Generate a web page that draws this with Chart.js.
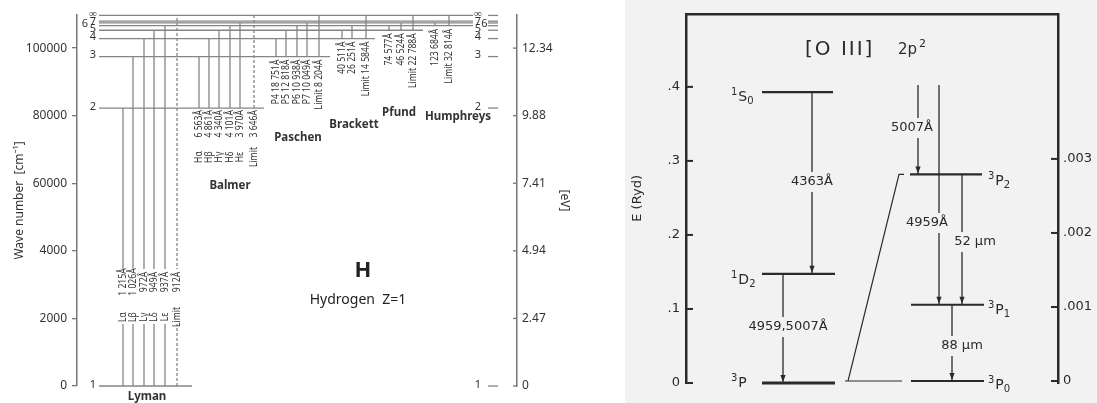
<!DOCTYPE html>
<html>
<head>
<meta charset="utf-8">
<script src="https://cdn.jsdelivr.net/npm/chart.js"></script>
<style>
  body { margin: 0; background: #fff; }
  #hChart { position: absolute; left: 0; top: 0; }
  #oChart { position: absolute; left: 600px; top: 0; }
</style>
</head>
<body>
<canvas id="hChart" width="600" height="403"></canvas>
<canvas id="oChart" width="497" height="403"></canvas>
<script>
// ---------- Hydrogen data ----------
var levelNames = ["1", "2", "3", "4", "5", "6", "7", "8", "∞"];
var levelWave = [0, 82259, 97492, 102824, 105292, 106632, 107440, 107965, 109678];
var waveTickVals = [0, 20000, 40000, 60000, 80000, 100000];
var waveTicks = ["0", "2000", "4000", "60000", "80000", "100000"];
var eVTicks = ["0", "2.47", "4.94", "7.41", "9.88", "12.34"];

var lymanNames = ["Lα", "Lβ", "Lγ", "Lδ", "Lε", "Limit"];
var lymanWl = ["1 215Å", "1 026Å", "972Å", "949Å", "937Å", "912Å"];
var balmerNames = ["Hα", "Hβ", "Hγ", "Hδ", "Hε", "Limit"];
var balmerWl = ["6 563Å", "4 861Å", "4 340Å", "4 101Å", "3 970Å", "3 646Å"];
var paschenNames = ["P4", "P5", "P6", "P7", "Limit"];
var paschenWl = ["18 751Å", "12 818Å", "10 938Å", "10 049Å", "8 204Å"];
var brackettNames = ["", "", "Limit"];
var brackettWl = ["40 511Å", "26 251Å", "14 584Å"];
var pfundNames = ["", "", "Limit"];
var pfundWl = ["74 577Å", "46 524Å", "22 788Å"];
var humphreysNames = ["", "Limit"];
var humphreysWl = ["123 684Å", "32 814Å"];

// ---------- [O III] data ----------
var oLevelSup = ["3", "1", "1"];
var oLevelMain = ["P", "D", "S"];
var oLevelSub = ["", "2", "0"];
var oLevelE = [0, 0.1475, 0.393];          // Ryd
var fineSub = ["0", "1", "2"];
var fineE = [0, 0.00103, 0.00279];          // Ryd
var fineFrom = 0.004;                       // lines coming down from 1D2 (off scale)
var rydTickVals = [0, 0.1, 0.2, 0.3, 0.4];
var rydTicks = ["0", ".1", ".2", ".3", ".4"];
var fineTickVals = [0, 0.001, 0.002, 0.003];
var fineTicks = ["0", ".001", ".002", ".003"];
var oLines = ["4363Å", "4959,5007Å", "5007Å", "4959Å", "52 µm", "88 µm"];

// ---------- layout (columns in x units, label y in px) ----------
var levelStart = 22;
var levelEnd = [115, 187, 253, 298, 346, 396, 396, 396, 396];
var series = [
  {name: "Lyman", lo: 0, names: lymanNames, wl: lymanWl, cols: [46, 56, 67, 77, 88, 100], title: [70, 397], dashLimit: true},
  {name: "Balmer", lo: 1, names: balmerNames, wl: balmerWl, cols: [122, 132, 142, 153, 163, 177], title: [153, 186], dashLimit: true},
  {name: "Paschen", lo: 2, names: paschenNames, wl: paschenWl, cols: [199, 209, 220, 230, 242], title: [221, 138]},
  {name: "Brackett", lo: 3, names: brackettNames, wl: brackettWl, cols: [265, 275, 289], title: [277, 125]},
  {name: "Pfund", lo: 4, names: pfundNames, wl: pfundWl, cols: [312, 324, 336], title: [322, 113]},
  {name: "Humphreys", lo: 5, names: humphreysNames, wl: humphreysWl, cols: [358, 372], title: [381, 117]}
];

var lineGray = "#858585";
var textDark = "#333";

var hDatasets = [];
for (var i = 0; i < levelWave.length; i++) {
  hDatasets.push({
    data: [{x: levelStart, y: levelWave[i]}, {x: levelEnd[i], y: levelWave[i]}],
    borderColor: lineGray, borderWidth: 1.3
  });
}
series.forEach(function (s) {
  var n = s.wl.length;
  for (var k = 0; k < n; k++) {
    var up = k < n - 1 ? s.lo + 1 + k : levelWave.length - 1;
    hDatasets.push({
      data: [{x: s.cols[k], y: levelWave[s.lo]}, {x: s.cols[k], y: levelWave[up]}],
      borderColor: lineGray, borderWidth: 1.3,
      borderDash: (s.dashLimit && k == n - 1) ? [3, 2] : []
    });
  }
});

function vtext(ctx, s, x, y, align) {
  ctx.save();
  ctx.translate(x, y);
  ctx.rotate(-Math.PI / 2);
  ctx.scale(0.82, 1);
  ctx.textAlign = align;
  ctx.textBaseline = "middle";
  ctx.fillText(s, 0, 0);
  ctx.restore();
}

var hLabels = {
  id: "hLabels",
  afterDatasetsDraw: function (chart) {
    var ctx = chart.ctx, xs = chart.scales.x, ys = chart.scales.y;
    var area = chart.chartArea;
    function X(v) { return xs.getPixelForValue(v); }
    function Y(v) { return ys.getPixelForValue(v); }
    ctx.save();
    ctx.fillStyle = textDark;
    ctx.font = "10.5px 'Noto Sans'";

    series.forEach(function (s) {
      var base = Y(levelWave[s.lo]);
      for (var k = 0; k < s.wl.length; k++) {
        var px = X(s.cols[k]);
        if (s.name == "Lyman") {
          ctx.fillStyle = "#fff";
          ctx.fillRect(px - 4, base - 117, 8, 55);
          ctx.fillStyle = textDark;
          vtext(ctx, s.wl[k], px, base - 104, "center");
          vtext(ctx, s.names[k], px, base - 69, "center");
        } else if (s.name == "Balmer") {
          vtext(ctx, s.wl[k], px, base + 2, "right");
          vtext(ctx, s.names[k], px, base + 49, "center");
        } else {
          var t = s.names[k] ? s.names[k] + " " + s.wl[k] : s.wl[k];
          vtext(ctx, t, px, base + 3, "right");
        }
      }
      ctx.font = "bold 11.5px 'Noto Sans'";
      ctx.textAlign = "center";
      ctx.textBaseline = "middle";
      ctx.fillText(s.name, X(s.title[0]), s.title[1]);
      ctx.font = "10.5px 'Noto Sans'";
    });

    // level numbers, left and right
    ctx.font = "11px 'Noto Sans'";
    ctx.textAlign = "center";
    ctx.textBaseline = "middle";
    for (var i = 0; i < levelWave.length; i++) {
      var py = Y(levelWave[i]);
      ctx.strokeStyle = lineGray;
      ctx.lineWidth = 1.3;
      ctx.beginPath();
      ctx.moveTo(X(411), py);
      ctx.lineTo(X(421), py);
      ctx.stroke();
      if (levelNames[i] == "8") continue;
      var off = levelNames[i] == "6" ? 8 : 0;
      ctx.fillText(levelNames[i], X(16) - off, py - 1.5);
      ctx.fillText(levelNames[i], X(401) + off * 0.8, py - 1.5);
    }

    // inward ticks on the eV axis
    var y1 = chart.scales.y1;
    ctx.strokeStyle = "#777";
    ctx.lineWidth = 1.3;
    y1.ticks.forEach(function (t) {
      var py = y1.getPixelForValue(t.value);
      ctx.beginPath();
      ctx.moveTo(area.right - 4, py);
      ctx.lineTo(area.right, py);
      ctx.stroke();
    });

    ctx.fillStyle = "#222";
    ctx.font = "bold 22px 'Noto Sans'";
    ctx.fillText("H", X(286), 271);
    ctx.font = "14px 'Noto Sans'";
    ctx.fillText("Hydrogen  Z=1", X(281), 300);
    ctx.restore();
  }
};

new Chart("hChart", {
  type: "line",
  data: {datasets: hDatasets},
  options: {
    responsive: false,
    animation: false,
    layout: {padding: {top: 15, bottom: 17, left: 0, right: 0}},
    plugins: {legend: {display: false}, tooltip: {enabled: false}},
    elements: {point: {radius: 0}, line: {tension: 0}},
    datasets: {line: {clip: false}},
    scales: {
      x: {type: "linear", display: false, min: 0, max: 440},
      y: {
        type: "linear", position: "left", min: 0, max: 109800,
        afterBuildTicks: function (s) { s.ticks = waveTickVals.map(function (v) { return {value: v}; }); },
        afterFit: function (s) { s.width = 77; },
        ticks: {callback: function (v, i) { return waveTicks[i]; }, font: {family: "Noto Sans", size: 12}, color: textDark, padding: 5},
        grid: {display: true, drawOnChartArea: false, drawTicks: true, tickLength: 5, color: "#777", lineWidth: 1.3},
        border: {display: true, color: "#777", width: 1.5},
        title: {display: true, text: "Wave number  [cm⁻¹]", font: {family: "Noto Sans", size: 12}, color: textDark, padding: {top: 12}}
      },
      y1: {
        type: "linear", position: "right", min: 0, max: 109800,
        afterBuildTicks: function (s) { s.ticks = waveTickVals.map(function (v) { return {value: v}; }); },
        afterFit: function (s) { s.width = 83; },
        ticks: {callback: function (v, i) { return eVTicks[i]; }, font: {family: "Noto Sans", size: 12}, color: textDark, padding: 5},
        grid: {display: false, drawOnChartArea: false, drawTicks: false},
        border: {display: true, color: "#777", width: 1.5},
        title: {display: true, text: "[eV]", font: {family: "Noto Sans", size: 12}, color: textDark, padding: {top: 28}}
      }
    }
  },
  plugins: [hLabels]
});

// ---------- [O III] chart ----------
var ink = "#2a2a2a";
var paper = "#f2f2f2";
var oDatasets = [];
var oLevelCols = [[76, 149], [76, 149], [76, 147]];
for (var j = 0; j < oLevelE.length; j++) {
  oDatasets.push({
    data: [{x: oLevelCols[j][0], y: oLevelE[j]}, {x: oLevelCols[j][1], y: oLevelE[j]}],
    borderColor: ink, borderWidth: j == 0 ? 3.2 : 2.2, yAxisID: "y"
  });
}
var fineCols = [[225, 298], [225, 298], [224, 296]];
for (var j = 0; j < fineE.length; j++) {
  oDatasets.push({
    data: [{x: fineCols[j][0], y: fineE[j]}, {x: fineCols[j][1], y: fineE[j]}],
    borderColor: ink, borderWidth: 2.2, yAxisID: "y1"
  });
}
// bracket joining 3P to its fine structure
oDatasets.push({data: [{x: 159, y: 0}, {x: 216, y: 0}], borderColor: ink, borderWidth: 1.2, yAxisID: "y1"});
oDatasets.push({data: [{x: 162, y: 0}, {x: 213, y: fineE[2]}, {x: 218, y: fineE[2]}], borderColor: ink, borderWidth: 1.2, yAxisID: "y1"});

// transitions: [label index, x column, from, to, axis, label x, label y]
var oTrans = [
  [0, 126, oLevelE[2], oLevelE[1], "y", 126, 182],
  [1, 97, oLevelE[1], oLevelE[0], "y", 102, 327],
  [2, 232, fineFrom, fineE[2], "y1", 226, 128],
  [3, 253, fineFrom, fineE[1], "y1", 241, 223],
  [4, 276, fineE[2], fineE[1], "y1", 289, 242],
  [5, 266, fineE[1], fineE[0], "y1", 276, 346]
];
oTrans.forEach(function (t) {
  oDatasets.push({
    data: [{x: t[1], y: t[2]}, {x: t[1], y: t[3]}],
    borderColor: ink, borderWidth: 1.3, yAxisID: t[4], arrow: true,
    lineLabel: oLines[t[0]], labelX: t[5], labelY: t[6]
  });
});

function spec(ctx, x, y, sup, main, sub) {
  ctx.textAlign = "left";
  ctx.textBaseline = "alphabetic";
  ctx.font = "10px 'DejaVu Sans'";
  ctx.fillText(sup, x, y - 6);
  var w = ctx.measureText(sup).width + 1;
  ctx.font = "14px 'DejaVu Sans'";
  ctx.fillText(main, x + w, y);
  var w2 = ctx.measureText(main).width;
  ctx.font = "10px 'DejaVu Sans'";
  ctx.fillText(sub, x + w + w2, y + 3);
}

var oDraw = {
  id: "oDraw",
  beforeDraw: function (chart) {
    var ctx = chart.ctx;
    ctx.save();
    ctx.fillStyle = paper;
    ctx.fillRect(25, 0, chart.width - 25, chart.height);
    ctx.restore();
  },
  afterDatasetsDraw: function (chart) {
    var ctx = chart.ctx, xs = chart.scales.x, ys = chart.scales.y, y1 = chart.scales.y1;
    var area = chart.chartArea;
    ctx.save();
    chart.data.datasets.forEach(function (ds, i) {
      if (!ds.arrow) return;
      var meta = chart.getDatasetMeta(i);
      var p = meta.data[meta.data.length - 1];
      ctx.fillStyle = ink;
      ctx.beginPath();
      ctx.moveTo(p.x, p.y - 1);
      ctx.lineTo(p.x - 2.6, p.y - 8);
      ctx.lineTo(p.x + 2.6, p.y - 8);
      ctx.closePath();
      ctx.fill();
      ctx.font = "13px 'DejaVu Sans'";
      var lx = xs.getPixelForValue(ds.labelX);
      var w = ctx.measureText(ds.lineLabel).width;
      ctx.fillStyle = paper;
      ctx.fillRect(lx - w / 2 - 2, ds.labelY - 10, w + 4, 20);
      ctx.fillStyle = ink;
      ctx.textAlign = "center";
      ctx.textBaseline = "middle";
      ctx.fillText(ds.lineLabel, lx, ds.labelY);
    });

    // inward tick marks
    ctx.strokeStyle = ink;
    ctx.lineWidth = 2;
    ys.ticks.forEach(function (t) {
      var py = ys.getPixelForValue(t.value);
      ctx.beginPath(); ctx.moveTo(area.left, py); ctx.lineTo(area.left + 7, py); ctx.stroke();
    });
    y1.ticks.forEach(function (t) {
      var py = y1.getPixelForValue(t.value);
      ctx.beginPath(); ctx.moveTo(area.right - 7, py); ctx.lineTo(area.right, py); ctx.stroke();
    });

    // level names
    ctx.fillStyle = ink;
    var oOff = [4, 10, 9];
    for (var j = 0; j < oLevelE.length; j++) {
      spec(ctx, xs.getPixelForValue(45), ys.getPixelForValue(oLevelE[j]) + oOff[j], oLevelSup[j], oLevelMain[j], oLevelSub[j]);
    }
    var fOff = [8, 9, 11];
    for (var j = 0; j < fineE.length; j++) {
      spec(ctx, xs.getPixelForValue(302), y1.getPixelForValue(fineE[j]) + fOff[j], "3", "P", fineSub[j]);
    }

    // title
    ctx.textAlign = "left";
    ctx.textBaseline = "middle";
    ctx.font = "20px 'DejaVu Sans'";
    ctx.letterSpacing = "2px";
    ctx.fillText("[O III]", xs.getPixelForValue(119), 50);
    ctx.letterSpacing = "0px";
    ctx.font = "15px 'DejaVu Sans'";
    ctx.fillText("2p", xs.getPixelForValue(212), 50);
    var w2p = ctx.measureText("2p").width;
    ctx.font = "11px 'DejaVu Sans'";
    ctx.fillText("2", xs.getPixelForValue(212) + w2p + 2, 44);
    ctx.restore();
  }
};

new Chart("oChart", {
  type: "line",
  data: {datasets: oDatasets},
  options: {
    responsive: false,
    animation: false,
    layout: {padding: {top: 9, bottom: 20, left: 0, right: 0}},
    plugins: {legend: {display: false}, tooltip: {enabled: false}},
    elements: {point: {radius: 0}, line: {tension: 0}},
    datasets: {line: {clip: false}},
    scales: {
      x: {
        type: "linear", position: "top", min: 0, max: 372,
        ticks: {display: false}, grid: {display: false, drawTicks: false},
        border: {display: true, color: ink, width: 2.5},
        afterFit: function (s) { s.height = 0; }
      },
      y: {
        type: "linear", position: "left", min: 0, max: 0.4987,
        afterBuildTicks: function (s) { s.ticks = rydTickVals.map(function (v) { return {value: v}; }); },
        afterFit: function (s) { s.width = 86; },
        ticks: {callback: function (v, i) { return rydTicks[i]; }, font: {family: "DejaVu Sans", size: 13}, color: ink, padding: 6},
        grid: {display: false, drawTicks: false},
        border: {display: true, color: ink, width: 2.5},
        title: {display: true, text: "E (Ryd)", font: {family: "DejaVu Sans", size: 13}, color: ink, padding: {top: 30}}
      },
      y1: {
        type: "linear", position: "right", min: -0.0000267, max: 0.00496,
        afterBuildTicks: function (s) { s.ticks = fineTickVals.map(function (v) { return {value: v}; }); },
        afterFit: function (s) { s.width = 39; },
        ticks: {callback: function (v, i) { return fineTicks[i]; }, font: {family: "DejaVu Sans", size: 13}, color: ink, padding: 5},
        grid: {display: false, drawTicks: false},
        border: {display: true, color: ink, width: 2.5}
      }
    }
  },
  plugins: [oDraw]
});
</script>
</body>
</html>
